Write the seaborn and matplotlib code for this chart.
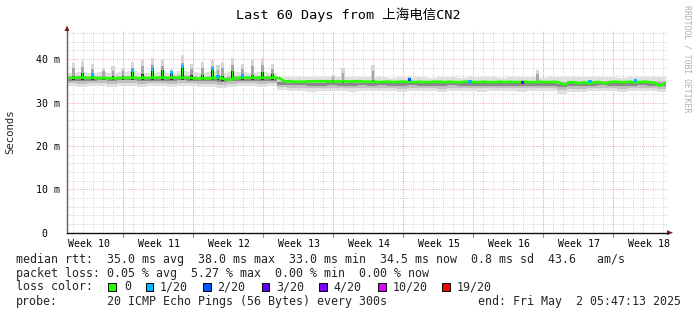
import numpy as np
import matplotlib
matplotlib.use("Agg")
import matplotlib.pyplot as plt
from matplotlib.patches import Rectangle, Polygon
import seaborn as sns

# ---------------- data ----------------
title = "Last 60 Days from 上海电信CN2"
week_labels = ["Week 10", "Week 11", "Week 12", "Week 13", "Week 14",
               "Week 15", "Week 16", "Week 17", "Week 18"]
ytick_vals = [0, 10, 20, 30, 40]
ytick_labels = ["0  ", "10 m", "20 m", "30 m", "40 m"]

# median rtt (ms), one value per half day
median_ms = [
    35.7, 35.7, 35.8, 35.7, 35.7, 35.7, 35.6, 35.6, 35.6, 35.6,
    35.6, 35.7, 35.7, 35.7, 35.6, 35.7, 35.7, 35.7, 35.8, 35.7,
    35.7, 35.8, 35.7, 35.7, 35.7, 35.6, 35.5, 35.6, 35.5, 35.7,
    35.7, 35.4, 35.2, 35.6, 35.7, 35.7, 35.7, 35.7, 35.7, 35.7,
    35.7, 35.7, 35.6, 34.9, 34.9, 34.8, 34.8, 34.8, 34.9, 34.9,
    34.9, 34.9, 34.9, 34.8, 34.9, 34.9, 34.8, 34.9, 34.9, 34.8,
    34.8, 34.8, 34.7, 34.8, 34.8, 34.7, 34.8, 34.8, 34.8, 34.7,
    34.8, 34.7, 34.7, 34.8, 34.8, 34.7, 34.8, 34.7, 34.7, 34.8,
    34.8, 34.7, 34.7, 34.8, 34.7, 34.7, 34.8, 34.7, 34.8, 34.7,
    34.7, 34.8, 34.7, 34.7, 34.8, 34.7, 34.7, 34.8, 34.6, 34.1,
    34.7, 34.7, 34.4, 34.7, 34.3, 34.7, 34.7, 34.4, 34.7, 34.8,
    34.7, 34.7, 34.8, 34.7, 34.7, 34.8, 34.7, 34.6, 33.8, 34.5,
]

# smoke envelope (ms), one value per day
smoke_hi = [
    36.9, 37.0, 36.8, 37.0, 36.8, 37.1, 37.2, 36.9, 36.8, 37.0,
    36.9, 37.2, 37.0, 36.9, 37.1, 36.8, 37.0, 37.1, 36.9, 37.0,
    36.9, 35.9, 35.9, 35.8, 35.9, 35.8, 35.9, 35.8, 35.9, 35.8,
    35.8, 35.9, 35.7, 35.8, 35.9, 35.8, 35.7, 35.8, 35.9, 35.7,
    35.8, 35.9, 35.8, 35.7, 35.8, 35.9, 35.8, 35.7, 35.8, 35.9,
    35.8, 35.9, 35.8, 35.9, 35.8, 35.7, 35.8, 35.9, 35.8, 35.8,
]
smoke_lo = [
    33.8, 33.6, 33.7, 33.9, 33.6, 33.8, 33.7, 33.5, 33.8, 33.7,
    33.6, 33.8, 33.7, 33.6, 33.5, 33.4, 33.6, 33.7, 33.8, 33.6,
    33.7, 32.9, 32.6, 32.7, 32.5, 32.6, 32.7, 32.6, 32.5, 32.7,
    32.6, 32.6, 32.7, 32.5, 32.6, 32.6, 32.7, 32.5, 32.6, 32.7,
    32.6, 32.5, 32.6, 32.7, 32.6, 32.5, 32.6, 32.7, 32.6, 32.0,
    32.5, 32.4, 32.6, 32.7, 32.6, 32.5, 32.6, 32.7, 32.6, 32.4,
]

# smoke spikes: day, top of smoke (ms), median at spike (ms)
spike_day = [0.67, 1.57, 2.57, 3.67, 4.6, 5.6, 6.57, 7.57, 8.57, 9.57,
             10.43, 11.57, 12.47, 13.53, 14.53, 15.1, 15.53, 16.53, 17.53,
             18.53, 19.53, 20.53, 26.6, 27.6, 30.6, 34.27, 47.07]
spike_top = [39.1, 39.6, 38.9, 38.0, 38.3, 38.0, 39.3, 39.8, 40.3, 39.8,
             37.8, 40.9, 38.8, 39.3, 39.8, 38.6, 39.4, 40.2, 38.9,
             40.0, 40.2, 38.9, 36.4, 37.9, 38.6, 36.0, 37.5]
spike_med = [36.0, 36.8, 36.5, 35.8, 35.9, 35.9, 37.3, 36.4, 37.6, 37.4,
             37.0, 38.2, 36.2, 36.3, 37.9, 36.0, 36.0, 37.2, 36.1,
             36.3, 37.0, 36.5, 35.0, 35.0, 35.0, 35.3, 34.9]

# packet-loss coloured points on the median
loss_day = [2.57, 6.57, 8.57, 10.43, 11.57, 14.53, 15.1, 17.53,
            34.27, 40.3, 45.57, 52.3, 56.87]
loss_ms = [36.5, 37.3, 37.6, 37.0, 38.2, 37.9, 35.9, 36.1,
           35.3, 34.8, 34.7, 34.9, 35.0]
loss_level = [1, 1, 1, 1, 1, 1, 1, 1, 2, 1, 3, 1, 1]

loss_names = ["0", "1/20", "2/20", "3/20", "4/20", "10/20", "19/20"]
loss_colors = ["#26ff00", "#00b8ff", "#0059ff", "#5e00ff", "#7e00ff",
               "#dd00ff", "#ff0000"]

legend_rtt = "median rtt:  35.0 ms avg  38.0 ms max  33.0 ms min  34.5 ms now  0.8 ms sd  43.6   am/s"
legend_loss = "packet loss: 0.05 % avg  5.27 % max  0.00 % min  0.00 % now"
probe_name = "20 ICMP Echo Pings (56 Bytes) every 300s"
end_text = "end: Fri May  2 05:47:13 2025"

# ---------------- figure ----------------
sns.set_theme(style="white")
plt.rcParams["font.family"] = ["DejaVu Sans Mono", "Noto Sans CJK SC"]

W, H = 697, 315
fig = plt.figure(figsize=(W / 100, H / 100), dpi=100)
fig.patch.set_facecolor("white")

def fx(px):
    return px / W

def fy(py):
    return 1 - py / H

ax_left, ax_right, ax_bottom, ax_top = 67, 667, 232.7, 29.6
ax = fig.add_axes([fx(ax_left), fy(ax_bottom), (ax_right - ax_left) / W,
                   (ax_bottom - ax_top) / H])
ax.set_facecolor("white")
ax.set_xlim(0, 60)
ax.set_ylim(0, 46.8)

# grid
minor_col = "#c8c8c8"
major_col = "#e09a9a"
dots = (0, (0.72, 1.44))
for yv in range(2, 47, 2):
    if yv % 10:
        ax.axhline(yv, color=minor_col, lw=0.72, ls=dots, zorder=0)
for yv in (10, 20, 30, 40):
    ax.axhline(yv, color=major_col, lw=0.72, ls=dots, zorder=0.5)
for d in np.arange(0.6, 60, 1.0):
    ax.axvline(d, color=minor_col, lw=0.72, ls=dots, zorder=0)
major_days = np.arange(5.6, 60, 7.0)
for d in major_days:
    ax.axvline(d, color=major_col, lw=0.72, ls=dots, zorder=0.5)
    ax.plot([d, d], [0, -0.9], color="#c87070", lw=0.8, clip_on=False, zorder=3)

# smoke
days = np.arange(61)
hi = np.array(smoke_hi + [smoke_hi[-1]])
lo = np.array(smoke_lo + [smoke_lo[-1]])
end_day = 59.87
days_c = np.minimum(days, end_day)
span = hi - lo
ax.fill_between(days_c, lo, hi, step="post", color="#e0e0e0", lw=0, zorder=1)
ax.fill_between(days_c, lo + 0.22 * span, lo + 0.72 * span, step="post",
                color="#c0c0c0", lw=0, zorder=1.1)
ax.fill_between(days_c, lo + 0.40 * span, lo + 0.6 * span, step="post",
                color="#8a8a8a", lw=0, zorder=1.2)

# spikes
sd = np.array(spike_day)
st = np.array(spike_top)
sm = np.array(spike_med)
med_arr = np.array(median_ms)
sbase = med_arr[np.clip((sd * 2).astype(int), 0, len(med_arr) - 1)]
ax.bar(sd, st - sbase, bottom=sbase, width=0.32, color="#d6d6d6", lw=0, zorder=1.5)
ax.bar(sd, (st - sbase) * 0.65, bottom=sbase, width=0.26, color="#a6a6a6", lw=0, zorder=1.6)
ax.bar(sd, (sm - sbase) + 0.5, bottom=sbase - 0.4, width=0.26, color="#2a2a2a", lw=0, zorder=1.7)

# median line
base_x = 0.25 + 0.5 * np.arange(len(median_ms))
base_x = np.minimum(base_x, end_day)
sns.lineplot(x=base_x, y=med_arr, ax=ax, color=loss_colors[0], lw=1.9, sort=False,
             estimator=None, zorder=3)
# narrow median excursions at the spikes
ax.bar(sd, sm - sbase, bottom=sbase, width=0.12, color=loss_colors[0], lw=0, zorder=3.1)

# loss markers
sns.scatterplot(x=loss_day, y=loss_ms, ax=ax, marker="s", s=5,
                c=[loss_colors[l] for l in loss_level], linewidth=0, zorder=4)

# axes styling
for s in ("top", "right"):
    ax.spines[s].set_visible(False)
ax.spines["left"].set_color("#606060")
ax.spines["left"].set_linewidth(1.0)
ax.spines["bottom"].set_color("#101010")
ax.spines["bottom"].set_linewidth(1.0)
ax.spines["left"].set_zorder(5)
ax.spines["bottom"].set_zorder(5)

ax.set_yticks(ytick_vals)
ax.set_yticklabels(ytick_labels)
ax.set_xticks(2.2 + 7.0 * np.arange(len(week_labels)))
ax.set_xticklabels(week_labels)
ax.tick_params(axis="both", length=0, labelsize=7.1, colors="#000000")
ax.tick_params(axis="y", pad=5)
ax.tick_params(axis="x", pad=4.5)
ax.set_xlabel("")
ax.set_ylabel("")

# arrows
arrow_col = "#7a1c1c"
fig.patches.append(Polygon([[fx(64.5), fy(31)], [fx(69.5), fy(31)], [fx(67), fy(25.5)]],
                           closed=True, transform=fig.transFigure,
                           facecolor=arrow_col, edgecolor="none"))
fig.patches.append(Polygon([[fx(667), fy(230.2)], [fx(667), fy(235.2)], [fx(673), fy(232.7)]],
                           closed=True, transform=fig.transFigure,
                           facecolor=arrow_col, edgecolor="none"))
fig.lines.append(plt.Line2D([fx(667), fx(668)], [fy(232.7), fy(232.7)],
                            transform=fig.transFigure, color="#101010", lw=1))

# texts
fig.text(fx(348), fy(15), title, ha="center", va="center", fontsize=9.7,
         color="#000000")
fig.text(fx(10), fy(132), "Seconds", rotation=90, ha="center", va="center",
         fontsize=7.7)
fig.text(fx(687), fy(59), "RRDTOOL / TOBI OETIKER", rotation=270, ha="center",
         va="center", fontsize=5.9, color="#b0b0b0")

lfs = 8.4
fig.text(fx(16), fy(259), legend_rtt, ha="left", va="center", fontsize=lfs)
fig.text(fx(16), fy(273.3), legend_loss, ha="left", va="center", fontsize=lfs)
fig.text(fx(16), fy(287), "loss color:", ha="left", va="center", fontsize=lfs)
box_x = [108.3, 146.0, 203.3, 261.7, 319.3, 378.3, 442.3]
txt_x = [124.0, 160.0, 216.7, 276.7, 333.0, 392.3, 456.7]
for bx, tx, name, col in zip(box_x, txt_x, loss_names, loss_colors):
    fig.patches.append(Rectangle((fx(bx), fy(290.7)), 7.3 / W, 7.3 / H,
                                 transform=fig.transFigure, facecolor=col,
                                 edgecolor="#000000", lw=0.7))
    fig.text(fx(tx), fy(287), name, ha="left", va="center", fontsize=lfs)
fig.text(fx(16), fy(301), "probe:", ha="left", va="center", fontsize=lfs)
fig.text(fx(107.3), fy(301), probe_name, ha="left", va="center", fontsize=lfs)
fig.text(fx(478.3), fy(301), end_text, ha="left", va="center", fontsize=lfs)

fig.savefig("out.png", dpi=100, facecolor="white")
